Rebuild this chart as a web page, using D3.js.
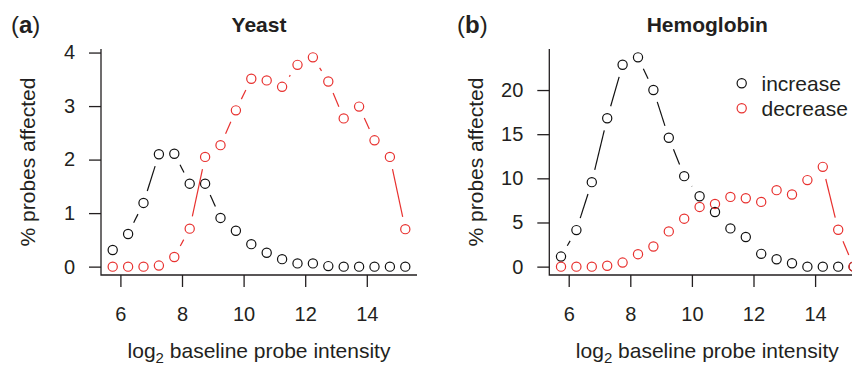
<!DOCTYPE html>
<html>
<head>
<meta charset="utf-8">
<script src="https://cdn.jsdelivr.net/npm/d3@7"></script>
<style>
  html, body { margin: 0; padding: 0; background: #fff; }
  svg { display: block; }
  text { font-family: "Liberation Sans", Arial, Helvetica, sans-serif; fill: #231f20; }
</style>
</head>
<body>
<svg id="chart" width="852" height="366"></svg>
<script>
// ---- data ----
const xValues = [5.75, 6.25, 6.75, 7.25, 7.75, 8.25, 8.75, 9.25, 9.75, 10.25,
                 10.75, 11.25, 11.75, 12.25, 12.75, 13.25, 13.75, 14.25, 14.75, 15.25];
const yeastIncrease = [0.31, 0.61, 1.19, 2.10, 2.11, 1.55, 1.55, 0.91, 0.67, 0.42,
                       0.26, 0.14, 0.06, 0.06, 0.01, 0.0, 0.0, 0.0, 0.0, 0.0];
const yeastDecrease = [0.0, 0.0, 0.0, 0.02, 0.18, 0.71, 2.05, 2.27, 2.92, 3.51,
                       3.48, 3.36, 3.77, 3.91, 3.46, 2.77, 2.99, 2.36, 2.05, 0.70];
const hemoIncrease = [1.14, 4.14, 9.57, 16.8, 22.86, 23.7, 20.0, 14.6, 10.25, 7.97,
                      6.19, 4.33, 3.35, 1.45, 0.84, 0.38, 0.0, 0.0, 0.0, 0.0];
const hemoDecrease = [0.0, 0.0, 0.0, 0.1, 0.46, 1.41, 2.28, 3.99, 5.43, 6.76,
                      7.1, 7.9, 7.75, 7.33, 8.66, 8.17, 9.8, 11.3, 4.18, 0.0];
const xTicks = [6, 8, 10, 12, 14];
const yeastTicks = [0, 1, 2, 3, 4];
const hemoTicks = [0, 5, 10, 15, 20];
const seriesNames = ["increase", "decrease"];
const seriesColors = ["#111111", "#e8312f"];

const svg = d3.select("#chart");
const textColor = "#231f20";

function panel(opts) {
  const { left, top, width, height, title, letter, inc, dec, yTicks, letterX, legend } = opts;
  const g = svg.append("g");

  // R-style usr range: data extent padded 4%
  const xExt = d3.extent(xValues);
  const xPad = (xExt[1] - xExt[0]) * 0.04;
  const x = d3.scaleLinear().domain([xExt[0] - xPad, xExt[1] + xPad]).range([left, left + width]);
  const yMax = d3.max(inc.concat(dec));
  const yPad = yMax * 0.04;
  const y = d3.scaleLinear().domain([-yPad, yMax + yPad]).range([top + height, top]);

  // L-shaped box
  g.append("path")
    .attr("d", `M${left},${top}V${top + height}H${left + width}`)
    .attr("fill", "none").attr("stroke", textColor).attr("stroke-width", 1.3);

  // axes
  const xAxis = d3.axisBottom(x).tickValues(xTicks).tickSize(12).tickPadding(20).tickFormat(d3.format("d"));
  const gx = g.append("g").attr("transform", `translate(0,${top + height})`).call(xAxis);
  gx.select(".domain").remove();
  gx.selectAll(".tick line").attr("stroke", textColor).attr("stroke-width", 1.3);
  gx.selectAll(".tick text").attr("fill", textColor).style("font-size", "20px")
    .style("font-family", '"Liberation Sans", Arial, sans-serif');

  const yAxis = d3.axisLeft(y).tickValues(yTicks).tickSize(12).tickPadding(14).tickFormat(d3.format("d"));
  const gy = g.append("g").attr("transform", `translate(${left},0)`).call(yAxis);
  gy.select(".domain").remove();
  gy.selectAll(".tick line").attr("stroke", textColor).attr("stroke-width", 1.3);
  gy.selectAll(".tick text").attr("fill", textColor).style("font-size", "20px")
    .style("font-family", '"Liberation Sans", Arial, sans-serif');

  // title
  g.append("text").attr("x", left + width / 2).attr("y", 31.5)
    .attr("text-anchor", "middle").style("font-size", "21px").style("font-weight", "bold")
    .text(title);

  // panel letter
  const lt = g.append("text").attr("x", letterX).attr("y", 33).style("font-size", "24px");
  lt.append("tspan").text("(");
  lt.append("tspan").style("font-weight", "bold").text(letter);
  lt.append("tspan").text(")");

  // axis labels
  const xl = g.append("text").attr("x", left + width / 2).attr("y", 358)
    .attr("text-anchor", "middle").style("font-size", "21px");
  xl.append("tspan").text("log");
  xl.append("tspan").attr("dy", 5).style("font-size", "15px").text("2");
  xl.append("tspan").attr("dy", -5).text(" baseline probe intensity");

  g.append("text")
    .attr("transform", `translate(${left - 66},${top + height / 2}) rotate(-90)`)
    .attr("text-anchor", "middle").style("font-size", "21px")
    .text("% probes affected");

  // type="b" series: points with gapped connecting lines
  const gap = 12.5;
  [inc, dec].forEach((vals, si) => {
    const pts = xValues.map((xv, i) => [x(xv), y(vals[i])]);
    const segs = [];
    for (let i = 0; i < pts.length - 1; i++) {
      const [x1, y1] = pts[i], [x2, y2] = pts[i + 1];
      const dx = x2 - x1, dy = y2 - y1, d = Math.hypot(dx, dy);
      if (d > 2 * gap) {
        const ux = dx / d, uy = dy / d;
        segs.push([x1 + ux * gap, y1 + uy * gap, x2 - ux * gap, y2 - uy * gap]);
      }
    }
    g.append("g").selectAll("line").data(segs).join("line")
      .attr("x1", s => s[0]).attr("y1", s => s[1]).attr("x2", s => s[2]).attr("y2", s => s[3])
      .attr("stroke", seriesColors[si]).attr("stroke-width", 1.2);
    g.append("g").selectAll("circle").data(vals).join("circle")
      .attr("cx", (v, i) => x(xValues[i])).attr("cy", v => y(v)).attr("r", 4.6)
      .attr("fill", "none").attr("stroke", seriesColors[si]).attr("stroke-width", 1.2);
  });

  if (legend) {
    const lg = g.append("g");
    seriesNames.forEach((name, i) => {
      lg.append("circle").attr("cx", 741.7).attr("cy", 83.3 + i * 25).attr("r", 4.6)
        .attr("fill", "none").attr("stroke", seriesColors[i]).attr("stroke-width", 1.2);
      lg.append("text").attr("x", 761.5).attr("y", 83.3 + i * 25).attr("dy", "0.35em")
        .style("font-size", "21px").text(name);
    });
  }
}

panel({ left: 101, top: 49, width: 316, height: 226, title: "Yeast", letter: "a",
        inc: yeastIncrease, dec: yeastDecrease, yTicks: yeastTicks, letterX: 11, legend: false });
panel({ left: 549.3, top: 49, width: 316, height: 226, title: "Hemoglobin", letter: "b",
        inc: hemoIncrease, dec: hemoDecrease, yTicks: hemoTicks, letterX: 457, legend: true });
</script>
</body>
</html>
